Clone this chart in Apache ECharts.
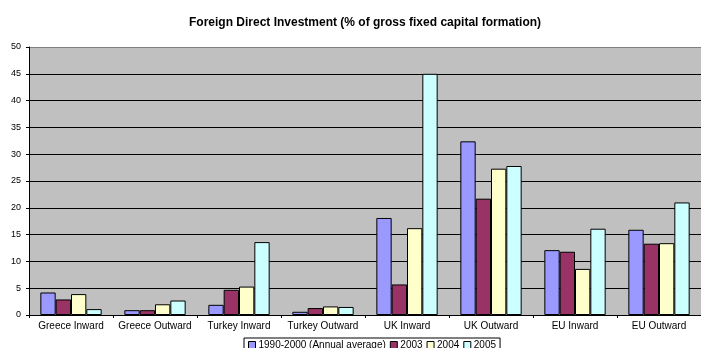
<!DOCTYPE html>
<html>
<head>
<meta charset="utf-8">
<script src="https://cdn.jsdelivr.net/npm/echarts@6/dist/echarts.min.js"></script>
<style>
  html, body { margin: 0; padding: 0; background: #ffffff; }
  #chart { width: 701px; height: 348px; }
</style>
</head>
<body>
<div id="chart"></div>
<script>
// Categories and FDI values (% of gross fixed capital formation)
const categories = ['Greece Inward', 'Greece Outward', 'Turkey Inward', 'Turkey Outward',
                    'UK Inward', 'UK Outward', 'EU Inward', 'EU Outward'];
const seriesNames = ['1990-2000 (Annual average)', '2003', '2004', '2005'];
const avg1990_2000 = [4.2, 0.9, 1.9, 0.6, 18.1, 32.4, 12.1, 15.9];
const y2003 = [2.9, 0.9, 4.7, 1.3, 5.7, 21.7, 11.8, 13.3];
const y2004 = [3.9, 2.0, 5.3, 1.6, 16.2, 27.3, 8.6, 13.4];
const y2005 = [1.1, 2.7, 13.6, 1.5, 45.0, 27.8, 16.1, 21.0];
const yTicks = [0, 5, 10, 15, 20, 25, 30, 35, 40, 45, 50];

const colors = ['#9999FF', '#993366', '#FFFFCC', '#CCFFFF'];
const values = [avg1990_2000, y2003, y2004, y2005];
const font = 'Arial, "Liberation Sans", sans-serif';

// Gridlines are black; the top edge of the plot area is a grey line
const gridColors = yTicks.map((t, i) => (i === yTicks.length - 1 ? '#808080' : '#000'));

const chart = echarts.init(document.getElementById('chart'), null, { renderer: 'canvas' });

chart.setOption({
  animation: false,
  backgroundColor: '#ffffff',
  title: {
    text: 'Foreign Direct Investment (% of gross fixed capital formation)',
    left: 184,
    top: 12,
    textStyle: { fontFamily: font, fontSize: 12, fontWeight: 'bold', color: '#000' }
  },
  legend: {
    data: seriesNames,
    left: 244,
    top: 338,
    icon: 'rect',
    itemWidth: 7,
    itemHeight: 7,
    itemGap: 4,
    padding: [2, 4, 2, 4],
    borderColor: '#000',
    borderWidth: 1,
    backgroundColor: '#fff',
    textStyle: { fontFamily: font, fontSize: 10, color: '#000', padding: [0, 0, 0, -2] },
    itemStyle: { borderColor: '#000', borderWidth: 1 }
  },
  grid: {
    show: true,
    left: 29,
    right: -6,
    top: 47,
    bottom: 33,
    backgroundColor: '#C0C0C0',
    borderWidth: 0
  },
  xAxis: {
    type: 'category',
    data: categories,
    axisLine: { show: true, lineStyle: { color: '#000', width: 1 } },
    axisTick: { show: true, length: 3, lineStyle: { color: '#000' } },
    axisLabel: { fontFamily: font, fontSize: 10, color: '#000', margin: 6, interval: 0 }
  },
  yAxis: {
    type: 'value',
    min: yTicks[0],
    max: yTicks[yTicks.length - 1],
    interval: 5,
    axisLine: { show: true, lineStyle: { color: '#000', width: 1 } },
    axisTick: { show: true, length: 3, lineStyle: { color: '#000' } },
    axisLabel: { fontFamily: font, fontSize: 9, color: '#000', margin: 8 },
    splitLine: { show: true, lineStyle: { color: gridColors, width: 1 } }
  },
  series: seriesNames.map((name, i) => ({
    name: name,
    type: 'bar',
    data: values[i],
    barGap: '0%',
    barCategoryGap: '27%',
    itemStyle: { color: colors[i], borderColor: '#000', borderWidth: 1 }
  }))
});
</script>
</body>
</html>
